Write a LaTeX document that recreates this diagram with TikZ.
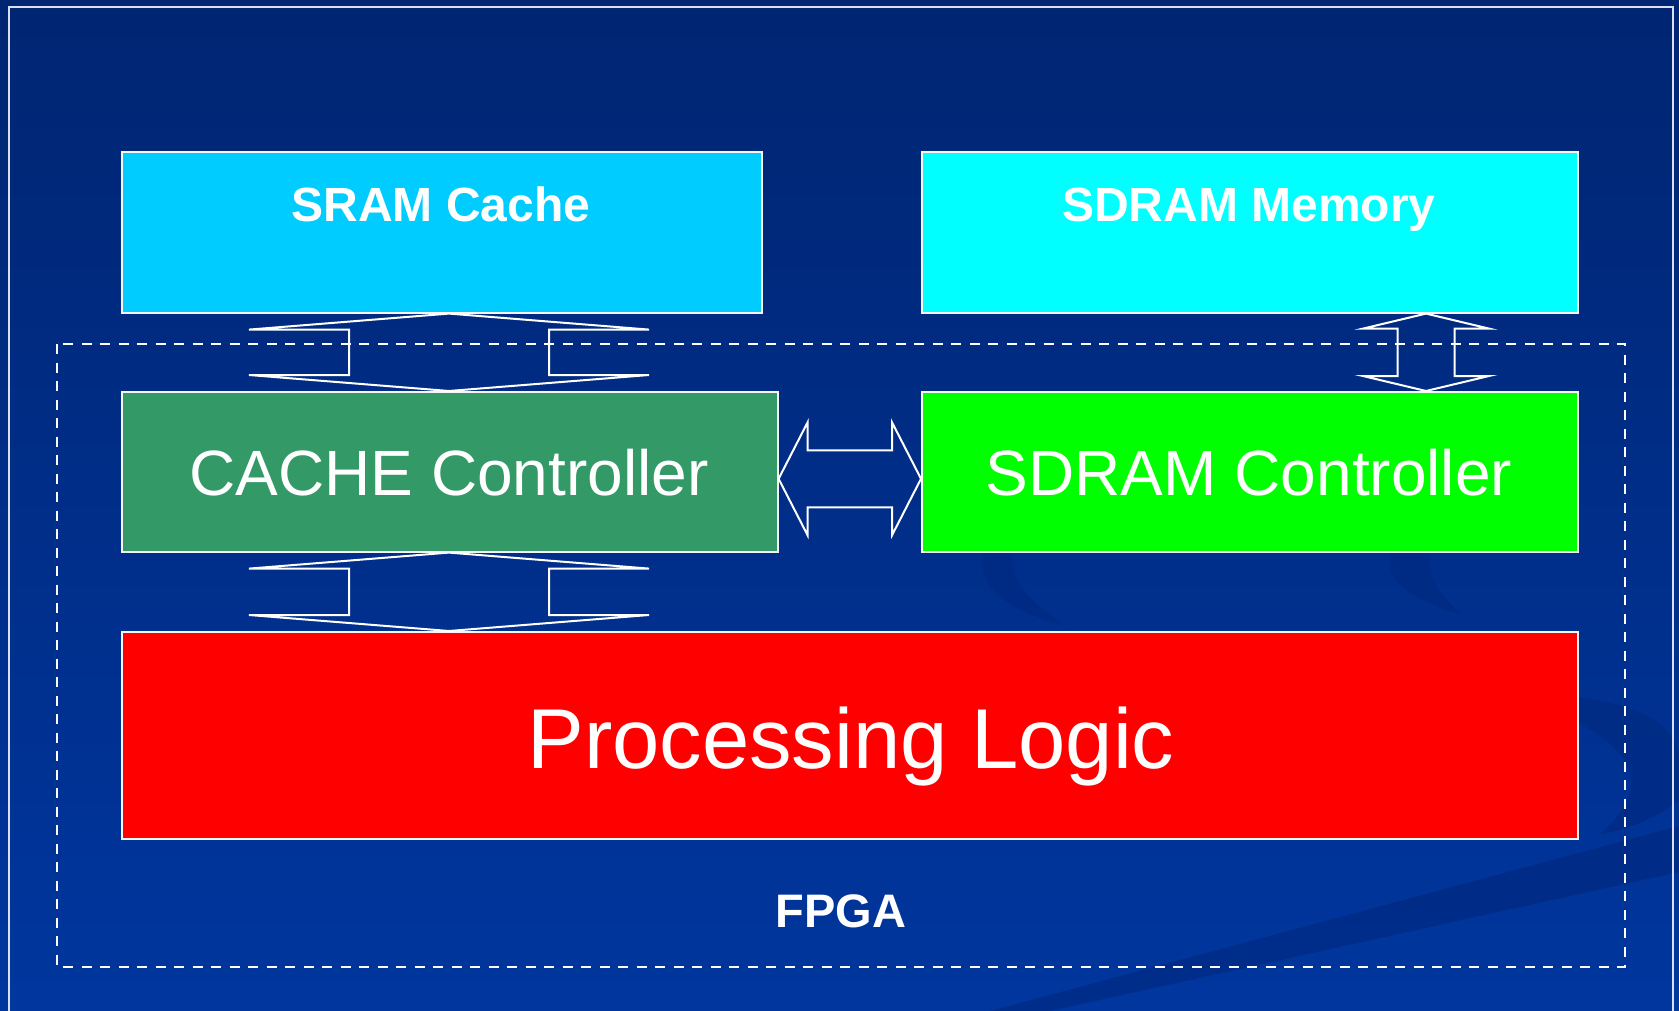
\documentclass[tikz,border=0pt]{standalone}
\usepackage{fontspec}
\setmainfont{Liberation Sans}
\usetikzlibrary{calc}

\definecolor{bgtop}{HTML}{002572}
\definecolor{bgbot}{HTML}{00369E}
\definecolor{swooshc}{HTML}{002A82}
\definecolor{sramc}{HTML}{00CCFF}
\definecolor{memc}{HTML}{00FFFF}
\definecolor{cachec}{HTML}{339966}
\definecolor{ctlc}{HTML}{00FF00}
\definecolor{procc}{HTML}{FF0000}

% vertical double-headed block arrow: top tip, bottom tip, half head width, half shaft width, head length
\newcommand\vbiarrow[5]{%
  \draw[blockarrow] let \p1=(#1), \p2=(#2) in
    (\x1,\y1) -- (\x1+#3,\y1-#5) -- (\x1+#4,\y1-#5) -- (\x1+#4,\y2+#5)
    -- (\x1+#3,\y2+#5) -- (\x1,\y2) -- (\x1-#3,\y2+#5) -- (\x1-#4,\y2+#5)
    -- (\x1-#4,\y1-#5) -- (\x1-#3,\y1-#5) -- cycle;}
% horizontal double-headed block arrow: left tip, right tip, half head width, half shaft width, head length
\newcommand\hbiarrow[5]{%
  \draw[blockarrow] let \p1=(#1), \p2=(#2) in
    (\x1,\y1) -- (\x1+#5,\y1+#3) -- (\x1+#5,\y1+#4) -- (\x2-#5,\y1+#4)
    -- (\x2-#5,\y1+#3) -- (\x2,\y1) -- (\x2-#5,\y1-#3) -- (\x2-#5,\y1-#4)
    -- (\x1+#5,\y1-#4) -- (\x1+#5,\y1-#3) -- cycle;}

\begin{document}
\begin{tikzpicture}[x=1pt,y=-1pt,
  box/.style={draw=white!92!gray, line width=1.6pt, anchor=north west, inner sep=0pt},
  lbl/.style={text=white, anchor=base, inner sep=0pt},
  blockarrow/.style={draw=white, line width=2pt, line join=miter},
  swoosh/.style={fill=swooshc, fill opacity=0.7}]
\useasboundingbox (0,0) rectangle (1679,1011);

% background
\shade[top color=bgtop, bottom color=bgbot] (0,0) rectangle (1679,1011);
\fill[swoosh] (990,1011) -- (1679,826) -- (1679,872) -- (1050,1011) -- cycle;
\fill[swoosh] (985,551) .. controls (972,585) and (1010,612) .. (1064,625)
  .. controls (1030,602) and (1008,580) .. (1012,551) -- cycle;
\fill[swoosh] (1392,551) .. controls (1378,580) and (1418,602) .. (1462,615)
  .. controls (1440,596) and (1424,575) .. (1430,551) -- cycle;
\fill[swoosh] (1577,697) .. controls (1640,705) and (1679,725) .. (1679,760)
  -- (1679,800) .. controls (1660,815) and (1630,830) .. (1600,834)
  .. controls (1640,800) and (1650,760) .. (1577,722) -- cycle;

% slide frame
\draw[white!85!bgbot, line width=2pt] (9,1015) -- (9,7) -- (1673,7) -- (1673,1015);

% FPGA boundary
\draw[white, line width=2.4pt, dash pattern=on 10pt off 8.5pt] (57,344) rectangle (1625,967);
\node[lbl, font=\bfseries\fontsize{47}{56}\selectfont] (fpga) at (841,927) {FPGA};

% blocks
\node[box, fill=sramc, minimum width=640pt, minimum height=161pt] (sram) at (121,151) {};
\node[box, fill=memc, minimum width=656pt, minimum height=161pt] (sdrammem) at (921,151) {};
\node[box, fill=cachec, minimum width=656pt, minimum height=160pt] (cachectl) at (121,391) {};
\node[box, fill=ctlc, minimum width=656pt, minimum height=160pt] (sdramctl) at (921,391) {};
\node[box, fill=procc, minimum width=1456pt, minimum height=207pt] (proc) at (121,631) {};

\node[lbl, font=\bfseries\fontsize{48}{56}\selectfont] (sramtxt) at (441,222) {SRAM Cache};
\node[lbl, font=\bfseries\fontsize{48}{56}\selectfont] (memtxt) at (1249,222) {SDRAM Memory};
\node[lbl, font=\fontsize{64}{76}\selectfont] (cachetxt) at (449,495) {CACHE Controller};
\node[lbl, font=\fontsize{64}{76}\selectfont] (ctltxt) at (1249,495) {SDRAM Controller};
\node[lbl, font=\fontsize{85}{100}\selectfont] (proctxt) at (851,768) {Processing Logic};

% bus arrows
\vbiarrow{$(sram.south west)+(328,0)$}{$(cachectl.north west)+(328,0)$}{200pt}{100pt}{16pt}
\vbiarrow{$(cachectl.south west)+(328,0)$}{$(proc.north west)+(328,0)$}{200pt}{100pt}{16pt}
\vbiarrow{$(sdrammem.south west)+(505,0)$}{$(sdramctl.north west)+(505,0)$}{63pt}{28.5pt}{15pt}
\hbiarrow{$(cachectl.east)+(0,7)$}{$(sdramctl.west)+(0,7)$}{56.5pt}{28.5pt}{29pt}
\end{tikzpicture}
\end{document}
